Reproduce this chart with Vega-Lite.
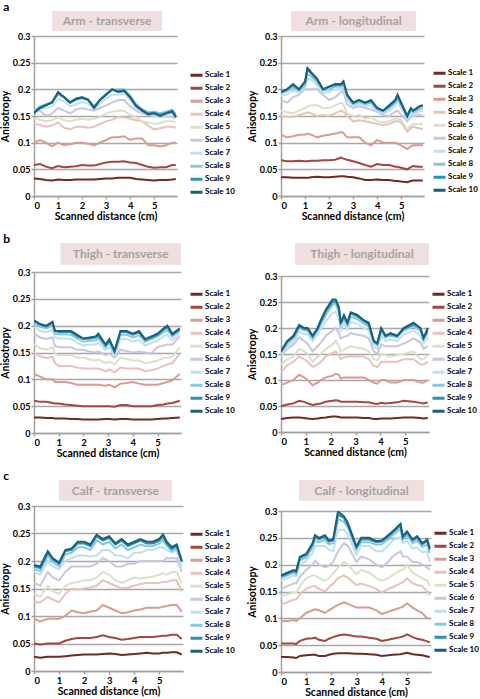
{
"$schema": "https://vega.github.io/schema/vega-lite/v6.json",
"background": "white",
"padding": {"left": 0, "top": 1, "right": 0, "bottom": 0},
"config": {
  "view": {"stroke": null},
  "font": "Lato",
  "range": {"category": ["#6e2a23", "#a4473c", "#d79c93", "#e9c2bd", "#d9e2c8", "#c9c6dd", "#c0e0ee", "#86c7e2", "#2a92b8", "#1b5f78"]},
  "axis": {"labelFont": "Lato", "titleFont": "Lato", "labelFontWeight": "bold", "titleFontWeight": "bold", "labelFontSize": 9.5, "titleFontSize": 10.5, "labelColor": "#000", "titleColor": "#000", "domainColor": "#a0a0a0", "domainWidth": 1.5, "tickColor": "#a0a0a0", "tickWidth": 1.5, "tickSize": 3, "gridColor": "#a8a8a8", "gridWidth": 1.5, "labelPadding": 1, "titlePadding": 2},
  "axisX": {"grid": false},
  "axisY": {"labelFontSize": 9},
  "legend": {"symbolType": "stroke", "symbolStrokeWidth": 3, "symbolSize": 144, "labelFontSize": 8, "labelFontWeight": "bold", "labelFont": "Lato", "rowPadding": 0, "clipHeight": 12.4, "padding": 0, "labelOffset": 1, "title": null},
  "title": {"font": "Lato", "fontWeight": "bold", "fontSize": 12, "anchor": "start", "frame": "bounds", "offset": -3, "dx": 3}
},
"datasets": {
"AT": [
{"x":0,"s1":0.033,"s2":0.058,"s3":0.1,"s4":0.135,"s5":0.145,"s6":0.16,"s7":0.158,"s8":0.16,"s9":0.157,"s10":0.155},
{"x":0.25,"s1":0.032,"s2":0.06,"s3":0.105,"s4":0.133,"s5":0.143,"s6":0.16,"s7":0.163,"s8":0.168,"s9":0.166,"s10":0.165},
{"x":0.5,"s1":0.03,"s2":0.055,"s3":0.1,"s4":0.13,"s5":0.14,"s6":0.15,"s7":0.165,"s8":0.172,"s9":0.171,"s10":0.17},
{"x":0.75,"s1":0.029,"s2":0.052,"s3":0.093,"s4":0.132,"s5":0.142,"s6":0.155,"s7":0.168,"s8":0.176,"s9":0.176,"s10":0.175},
{"x":1,"s1":0.031,"s2":0.056,"s3":0.1,"s4":0.138,"s5":0.148,"s6":0.165,"s7":0.182,"s8":0.19,"s9":0.193,"s10":0.195},
{"x":1.25,"s1":0.03,"s2":0.054,"s3":0.095,"s4":0.128,"s5":0.142,"s6":0.16,"s7":0.178,"s8":0.185,"s9":0.186,"s10":0.185},
{"x":1.5,"s1":0.03,"s2":0.055,"s3":0.097,"s4":0.125,"s5":0.14,"s6":0.155,"s7":0.168,"s8":0.175,"s9":0.176,"s10":0.175},
{"x":1.75,"s1":0.031,"s2":0.056,"s3":0.1,"s4":0.13,"s5":0.143,"s6":0.162,"s7":0.172,"s8":0.18,"s9":0.183,"s10":0.182},
{"x":2,"s1":0.031,"s2":0.058,"s3":0.1,"s4":0.13,"s5":0.145,"s6":0.165,"s7":0.176,"s8":0.183,"s9":0.185,"s10":0.185},
{"x":2.25,"s1":0.031,"s2":0.057,"s3":0.098,"s4":0.128,"s5":0.143,"s6":0.162,"s7":0.173,"s8":0.18,"s9":0.181,"s10":0.18},
{"x":2.5,"s1":0.031,"s2":0.057,"s3":0.095,"s4":0.13,"s5":0.145,"s6":0.16,"s7":0.163,"s8":0.168,"s9":0.167,"s10":0.165},
{"x":2.75,"s1":0.032,"s2":0.06,"s3":0.1,"s4":0.135,"s5":0.148,"s6":0.165,"s7":0.173,"s8":0.18,"s9":0.181,"s10":0.18},
{"x":3,"s1":0.033,"s2":0.063,"s3":0.105,"s4":0.14,"s5":0.155,"s6":0.17,"s7":0.183,"s8":0.19,"s9":0.191,"s10":0.19},
{"x":3.25,"s1":0.033,"s2":0.064,"s3":0.11,"s4":0.143,"s5":0.158,"s6":0.175,"s7":0.19,"s8":0.198,"s9":0.2,"s10":0.2},
{"x":3.5,"s1":0.034,"s2":0.064,"s3":0.11,"s4":0.148,"s5":0.16,"s6":0.18,"s7":0.19,"s8":0.2,"s9":0.197,"s10":0.195},
{"x":3.75,"s1":0.034,"s2":0.065,"s3":0.112,"s4":0.147,"s5":0.16,"s6":0.18,"s7":0.192,"s8":0.2,"s9":0.198,"s10":0.197},
{"x":4,"s1":0.034,"s2":0.063,"s3":0.105,"s4":0.145,"s5":0.152,"s6":0.168,"s7":0.18,"s8":0.188,"s9":0.186,"s10":0.185},
{"x":4.25,"s1":0.032,"s2":0.062,"s3":0.108,"s4":0.142,"s5":0.148,"s6":0.16,"s7":0.166,"s8":0.172,"s9":0.17,"s10":0.168},
{"x":4.5,"s1":0.031,"s2":0.058,"s3":0.108,"s4":0.14,"s5":0.14,"s6":0.155,"s7":0.158,"s8":0.163,"s9":0.161,"s10":0.16},
{"x":4.75,"s1":0.03,"s2":0.055,"s3":0.095,"s4":0.132,"s5":0.138,"s6":0.152,"s7":0.152,"s8":0.157,"s9":0.155,"s10":0.153},
{"x":5,"s1":0.029,"s2":0.053,"s3":0.095,"s4":0.125,"s5":0.135,"s6":0.15,"s7":0.153,"s8":0.158,"s9":0.156,"s10":0.155},
{"x":5.25,"s1":0.03,"s2":0.054,"s3":0.093,"s4":0.127,"s5":0.137,"s6":0.148,"s7":0.15,"s8":0.155,"s9":0.152,"s10":0.15},
{"x":5.5,"s1":0.03,"s2":0.054,"s3":0.095,"s4":0.13,"s5":0.14,"s6":0.15,"s7":0.153,"s8":0.158,"s9":0.156,"s10":0.155},
{"x":5.75,"s1":0.031,"s2":0.058,"s3":0.1,"s4":0.13,"s5":0.14,"s6":0.148,"s7":0.156,"s8":0.162,"s9":0.16,"s10":0.158},
{"x":5.9,"s1":0.032,"s2":0.058,"s3":0.1,"s4":0.128,"s5":0.138,"s6":0.145,"s7":0.15,"s8":0.153,"s9":0.15,"s10":0.148}
],
"AL": [
{"x":0,"s1":0.035,"s2":0.067,"s3":0.115,"s4":0.15,"s5":0.16,"s6":0.18,"s7":0.188,"s8":0.192,"s9":0.196,"s10":0.195},
{"x":0.25,"s1":0.035,"s2":0.065,"s3":0.11,"s4":0.148,"s5":0.157,"s6":0.175,"s7":0.19,"s8":0.196,"s9":0.2,"s10":0.2},
{"x":0.5,"s1":0.034,"s2":0.065,"s3":0.112,"s4":0.148,"s5":0.155,"s6":0.185,"s7":0.198,"s8":0.204,"s9":0.208,"s10":0.21},
{"x":0.75,"s1":0.034,"s2":0.066,"s3":0.115,"s4":0.152,"s5":0.16,"s6":0.19,"s7":0.193,"s8":0.197,"s9":0.2,"s10":0.2},
{"x":1,"s1":0.034,"s2":0.065,"s3":0.115,"s4":0.155,"s5":0.165,"s6":0.2,"s7":0.203,"s8":0.208,"s9":0.213,"s10":0.215},
{"x":1.1,"s1":0.034,"s2":0.065,"s3":0.117,"s4":0.157,"s5":0.168,"s6":0.2,"s7":0.22,"s8":0.228,"s9":0.237,"s10":0.24},
{"x":1.25,"s1":0.035,"s2":0.066,"s3":0.115,"s4":0.155,"s5":0.17,"s6":0.2,"s7":0.218,"s8":0.225,"s9":0.23,"s10":0.232},
{"x":1.5,"s1":0.036,"s2":0.066,"s3":0.11,"s4":0.15,"s5":0.17,"s6":0.2,"s7":0.208,"s8":0.213,"s9":0.218,"s10":0.22},
{"x":1.75,"s1":0.035,"s2":0.067,"s3":0.113,"s4":0.152,"s5":0.165,"s6":0.19,"s7":0.193,"s8":0.198,"s9":0.2,"s10":0.2},
{"x":2,"s1":0.035,"s2":0.067,"s3":0.115,"s4":0.15,"s5":0.165,"s6":0.18,"s7":0.195,"s8":0.2,"s9":0.205,"s10":0.205},
{"x":2.25,"s1":0.036,"s2":0.068,"s3":0.117,"s4":0.155,"s5":0.17,"s6":0.185,"s7":0.2,"s8":0.205,"s9":0.208,"s10":0.21},
{"x":2.5,"s1":0.037,"s2":0.072,"s3":0.12,"s4":0.16,"s5":0.175,"s6":0.195,"s7":0.2,"s8":0.205,"s9":0.208,"s10":0.21},
{"x":2.6,"s1":0.037,"s2":0.07,"s3":0.118,"s4":0.158,"s5":0.172,"s6":0.195,"s7":0.205,"s8":0.21,"s9":0.213,"s10":0.215},
{"x":2.75,"s1":0.036,"s2":0.068,"s3":0.11,"s4":0.15,"s5":0.155,"s6":0.172,"s7":0.182,"s8":0.186,"s9":0.19,"s10":0.19},
{"x":3,"s1":0.035,"s2":0.065,"s3":0.11,"s4":0.14,"s5":0.15,"s6":0.165,"s7":0.168,"s8":0.172,"s9":0.175,"s10":0.175},
{"x":3.25,"s1":0.033,"s2":0.062,"s3":0.11,"s4":0.142,"s5":0.152,"s6":0.168,"s7":0.172,"s8":0.176,"s9":0.18,"s10":0.18},
{"x":3.5,"s1":0.03,"s2":0.058,"s3":0.1,"s4":0.14,"s5":0.145,"s6":0.165,"s7":0.168,"s8":0.172,"s9":0.175,"s10":0.175},
{"x":3.75,"s1":0.03,"s2":0.055,"s3":0.095,"s4":0.138,"s5":0.148,"s6":0.162,"s7":0.17,"s8":0.175,"s9":0.178,"s10":0.18},
{"x":4,"s1":0.031,"s2":0.06,"s3":0.105,"s4":0.135,"s5":0.14,"s6":0.158,"s7":0.158,"s8":0.162,"s9":0.165,"s10":0.165},
{"x":4.25,"s1":0.03,"s2":0.058,"s3":0.1,"s4":0.133,"s5":0.138,"s6":0.152,"s7":0.155,"s8":0.158,"s9":0.16,"s10":0.16},
{"x":4.5,"s1":0.03,"s2":0.058,"s3":0.1,"s4":0.135,"s5":0.14,"s6":0.15,"s7":0.16,"s8":0.165,"s9":0.168,"s10":0.17},
{"x":4.75,"s1":0.028,"s2":0.055,"s3":0.1,"s4":0.14,"s5":0.145,"s6":0.158,"s7":0.17,"s8":0.175,"s9":0.178,"s10":0.18},
{"x":4.85,"s1":0.028,"s2":0.055,"s3":0.098,"s4":0.14,"s5":0.145,"s6":0.16,"s7":0.178,"s8":0.183,"s9":0.187,"s10":0.19},
{"x":5,"s1":0.027,"s2":0.053,"s3":0.095,"s4":0.138,"s5":0.142,"s6":0.152,"s7":0.165,"s8":0.17,"s9":0.173,"s10":0.175},
{"x":5.25,"s1":0.026,"s2":0.05,"s3":0.088,"s4":0.12,"s5":0.125,"s6":0.14,"s7":0.145,"s8":0.148,"s9":0.15,"s10":0.15},
{"x":5.4,"s1":0.028,"s2":0.054,"s3":0.093,"s4":0.127,"s5":0.132,"s6":0.148,"s7":0.155,"s8":0.16,"s9":0.163,"s10":0.165},
{"x":5.5,"s1":0.029,"s2":0.056,"s3":0.095,"s4":0.13,"s5":0.135,"s6":0.15,"s7":0.153,"s8":0.157,"s9":0.16,"s10":0.16},
{"x":5.75,"s1":0.029,"s2":0.055,"s3":0.095,"s4":0.127,"s5":0.135,"s6":0.152,"s7":0.158,"s8":0.163,"s9":0.167,"s10":0.168},
{"x":5.9,"s1":0.029,"s2":0.055,"s3":0.095,"s4":0.125,"s5":0.135,"s6":0.15,"s7":0.16,"s8":0.165,"s9":0.17,"s10":0.17}
],
"BT": [
{"x":0,"s1":0.029,"s2":0.06,"s3":0.11,"s4":0.15,"s5":0.165,"s6":0.185,"s7":0.198,"s8":0.205,"s9":0.208,"s10":0.21},
{"x":0.25,"s1":0.029,"s2":0.058,"s3":0.105,"s4":0.143,"s5":0.158,"s6":0.178,"s7":0.19,"s8":0.198,"s9":0.202,"s10":0.203},
{"x":0.5,"s1":0.028,"s2":0.058,"s3":0.1,"s4":0.14,"s5":0.155,"s6":0.175,"s7":0.188,"s8":0.195,"s9":0.198,"s10":0.2},
{"x":0.75,"s1":0.028,"s2":0.056,"s3":0.1,"s4":0.142,"s5":0.16,"s6":0.178,"s7":0.192,"s8":0.2,"s9":0.205,"s10":0.207},
{"x":0.85,"s1":0.027,"s2":0.055,"s3":0.095,"s4":0.13,"s5":0.148,"s6":0.162,"s7":0.178,"s8":0.185,"s9":0.19,"s10":0.19},
{"x":1,"s1":0.027,"s2":0.055,"s3":0.095,"s4":0.125,"s5":0.145,"s6":0.16,"s7":0.176,"s8":0.184,"s9":0.188,"s10":0.19},
{"x":1.25,"s1":0.027,"s2":0.053,"s3":0.095,"s4":0.125,"s5":0.145,"s6":0.16,"s7":0.176,"s8":0.184,"s9":0.188,"s10":0.19},
{"x":1.5,"s1":0.026,"s2":0.052,"s3":0.093,"s4":0.125,"s5":0.145,"s6":0.16,"s7":0.175,"s8":0.183,"s9":0.188,"s10":0.19},
{"x":1.75,"s1":0.026,"s2":0.051,"s3":0.09,"s4":0.122,"s5":0.14,"s6":0.155,"s7":0.168,"s8":0.176,"s9":0.18,"s10":0.183},
{"x":2,"s1":0.025,"s2":0.05,"s3":0.09,"s4":0.12,"s5":0.14,"s6":0.155,"s7":0.163,"s8":0.17,"s9":0.175,"s10":0.176},
{"x":2.25,"s1":0.025,"s2":0.05,"s3":0.09,"s4":0.12,"s5":0.137,"s6":0.152,"s7":0.165,"s8":0.172,"s9":0.176,"s10":0.178},
{"x":2.5,"s1":0.025,"s2":0.05,"s3":0.09,"s4":0.12,"s5":0.135,"s6":0.15,"s7":0.165,"s8":0.173,"s9":0.178,"s10":0.18},
{"x":2.6,"s1":0.025,"s2":0.05,"s3":0.09,"s4":0.12,"s5":0.137,"s6":0.152,"s7":0.168,"s8":0.177,"s9":0.182,"s10":0.185},
{"x":2.9,"s1":0.026,"s2":0.05,"s3":0.088,"s4":0.115,"s5":0.13,"s6":0.145,"s7":0.155,"s8":0.16,"s9":0.163,"s10":0.165},
{"x":3.05,"s1":0.026,"s2":0.05,"s3":0.09,"s4":0.118,"s5":0.133,"s6":0.148,"s7":0.16,"s8":0.168,"s9":0.172,"s10":0.175},
{"x":3.26,"s1":0.025,"s2":0.049,"s3":0.085,"s4":0.113,"s5":0.128,"s6":0.14,"s7":0.145,"s8":0.15,"s9":0.152,"s10":0.153},
{"x":3.5,"s1":0.026,"s2":0.052,"s3":0.092,"s4":0.122,"s5":0.14,"s6":0.155,"s7":0.175,"s8":0.183,"s9":0.188,"s10":0.19},
{"x":3.75,"s1":0.026,"s2":0.052,"s3":0.093,"s4":0.12,"s5":0.138,"s6":0.153,"s7":0.175,"s8":0.183,"s9":0.188,"s10":0.19},
{"x":4,"s1":0.025,"s2":0.05,"s3":0.095,"s4":0.12,"s5":0.135,"s6":0.15,"s7":0.17,"s8":0.178,"s9":0.183,"s10":0.185},
{"x":4.25,"s1":0.025,"s2":0.05,"s3":0.092,"s4":0.12,"s5":0.135,"s6":0.152,"s7":0.173,"s8":0.182,"s9":0.187,"s10":0.19},
{"x":4.5,"s1":0.025,"s2":0.05,"s3":0.09,"s4":0.115,"s5":0.13,"s6":0.15,"s7":0.163,"s8":0.17,"s9":0.173,"s10":0.175},
{"x":4.75,"s1":0.025,"s2":0.05,"s3":0.09,"s4":0.117,"s5":0.132,"s6":0.148,"s7":0.168,"s8":0.175,"s9":0.178,"s10":0.18},
{"x":5,"s1":0.026,"s2":0.052,"s3":0.09,"s4":0.12,"s5":0.135,"s6":0.16,"s7":0.172,"s8":0.18,"s9":0.183,"s10":0.185},
{"x":5.25,"s1":0.027,"s2":0.053,"s3":0.093,"s4":0.125,"s5":0.14,"s6":0.163,"s7":0.18,"s8":0.188,"s9":0.193,"s10":0.195},
{"x":5.4,"s1":0.027,"s2":0.055,"s3":0.095,"s4":0.128,"s5":0.14,"s6":0.165,"s7":0.183,"s8":0.192,"s9":0.197,"s10":0.2},
{"x":5.6,"s1":0.028,"s2":0.056,"s3":0.098,"s4":0.13,"s5":0.142,"s6":0.165,"s7":0.173,"s8":0.18,"s9":0.183,"s10":0.185},
{"x":5.9,"s1":0.029,"s2":0.06,"s3":0.11,"s4":0.148,"s5":0.16,"s6":0.18,"s7":0.185,"s8":0.19,"s9":0.193,"s10":0.195}
],
"BL": [
{"x":0,"s1":0.025,"s2":0.05,"s3":0.09,"s4":0.115,"s5":0.13,"s6":0.145,"s7":0.148,"s8":0.152,"s9":0.156,"s10":0.155},
{"x":0.25,"s1":0.027,"s2":0.053,"s3":0.095,"s4":0.128,"s5":0.14,"s6":0.16,"s7":0.165,"s8":0.17,"s9":0.173,"s10":0.175},
{"x":0.5,"s1":0.028,"s2":0.055,"s3":0.1,"s4":0.135,"s5":0.145,"s6":0.168,"s7":0.173,"s8":0.18,"s9":0.183,"s10":0.185},
{"x":0.73,"s1":0.028,"s2":0.06,"s3":0.11,"s4":0.145,"s5":0.16,"s6":0.182,"s7":0.193,"s8":0.2,"s9":0.203,"s10":0.206},
{"x":0.93,"s1":0.027,"s2":0.058,"s3":0.105,"s4":0.14,"s5":0.155,"s6":0.175,"s7":0.188,"s8":0.195,"s9":0.198,"s10":0.2},
{"x":1.07,"s1":0.026,"s2":0.055,"s3":0.1,"s4":0.135,"s5":0.15,"s6":0.17,"s7":0.188,"s8":0.195,"s9":0.198,"s10":0.2},
{"x":1.27,"s1":0.025,"s2":0.052,"s3":0.09,"s4":0.125,"s5":0.135,"s6":0.155,"s7":0.175,"s8":0.18,"s9":0.184,"s10":0.185},
{"x":1.47,"s1":0.026,"s2":0.054,"s3":0.095,"s4":0.13,"s5":0.145,"s6":0.165,"s7":0.188,"s8":0.195,"s9":0.198,"s10":0.2},
{"x":1.6,"s1":0.027,"s2":0.055,"s3":0.1,"s4":0.135,"s5":0.15,"s6":0.172,"s7":0.198,"s8":0.207,"s9":0.212,"s10":0.215},
{"x":1.8,"s1":0.028,"s2":0.058,"s3":0.105,"s4":0.145,"s5":0.16,"s6":0.185,"s7":0.213,"s8":0.225,"s9":0.232,"s10":0.235},
{"x":2.07,"s1":0.03,"s2":0.06,"s3":0.108,"s4":0.152,"s5":0.168,"s6":0.195,"s7":0.228,"s8":0.245,"s9":0.25,"s10":0.255},
{"x":2.2,"s1":0.03,"s2":0.061,"s3":0.112,"s4":0.155,"s5":0.175,"s6":0.2,"s7":0.232,"s8":0.247,"s9":0.252,"s10":0.255},
{"x":2.33,"s1":0.029,"s2":0.06,"s3":0.11,"s4":0.148,"s5":0.165,"s6":0.19,"s7":0.218,"s8":0.23,"s9":0.237,"s10":0.24},
{"x":2.4,"s1":0.028,"s2":0.058,"s3":0.103,"s4":0.14,"s5":0.155,"s6":0.18,"s7":0.195,"s8":0.205,"s9":0.21,"s10":0.21},
{"x":2.53,"s1":0.028,"s2":0.058,"s3":0.105,"s4":0.143,"s5":0.158,"s6":0.183,"s7":0.21,"s8":0.218,"s9":0.222,"s10":0.225},
{"x":2.67,"s1":0.028,"s2":0.058,"s3":0.105,"s4":0.145,"s5":0.162,"s6":0.185,"s7":0.197,"s8":0.205,"s9":0.21,"s10":0.21},
{"x":2.8,"s1":0.028,"s2":0.058,"s3":0.105,"s4":0.145,"s5":0.165,"s6":0.19,"s7":0.212,"s8":0.222,"s9":0.228,"s10":0.23},
{"x":3.07,"s1":0.028,"s2":0.058,"s3":0.105,"s4":0.145,"s5":0.162,"s6":0.187,"s7":0.208,"s8":0.217,"s9":0.222,"s10":0.225},
{"x":3.33,"s1":0.027,"s2":0.057,"s3":0.105,"s4":0.145,"s5":0.16,"s6":0.185,"s7":0.2,"s8":0.208,"s9":0.213,"s10":0.215},
{"x":3.53,"s1":0.027,"s2":0.057,"s3":0.1,"s4":0.14,"s5":0.155,"s6":0.18,"s7":0.195,"s8":0.203,"s9":0.207,"s10":0.21},
{"x":3.73,"s1":0.025,"s2":0.055,"s3":0.095,"s4":0.127,"s5":0.14,"s6":0.155,"s7":0.165,"s8":0.172,"s9":0.175,"s10":0.175},
{"x":3.87,"s1":0.025,"s2":0.054,"s3":0.093,"s4":0.125,"s5":0.138,"s6":0.15,"s7":0.16,"s8":0.167,"s9":0.17,"s10":0.17},
{"x":4.03,"s1":0.026,"s2":0.056,"s3":0.1,"s4":0.135,"s5":0.15,"s6":0.168,"s7":0.185,"s8":0.193,"s9":0.198,"s10":0.2},
{"x":4.2,"s1":0.026,"s2":0.055,"s3":0.1,"s4":0.135,"s5":0.148,"s6":0.165,"s7":0.175,"s8":0.182,"s9":0.185,"s10":0.185},
{"x":4.4,"s1":0.026,"s2":0.056,"s3":0.095,"s4":0.135,"s5":0.145,"s6":0.165,"s7":0.178,"s8":0.185,"s9":0.188,"s10":0.19},
{"x":4.67,"s1":0.027,"s2":0.057,"s3":0.095,"s4":0.135,"s5":0.148,"s6":0.165,"s7":0.175,"s8":0.182,"s9":0.185,"s10":0.185},
{"x":4.93,"s1":0.028,"s2":0.06,"s3":0.1,"s4":0.14,"s5":0.15,"s6":0.17,"s7":0.187,"s8":0.195,"s9":0.198,"s10":0.2},
{"x":5.33,"s1":0.028,"s2":0.058,"s3":0.1,"s4":0.14,"s5":0.155,"s6":0.18,"s7":0.195,"s8":0.203,"s9":0.207,"s10":0.21},
{"x":5.6,"s1":0.027,"s2":0.056,"s3":0.095,"s4":0.13,"s5":0.14,"s6":0.172,"s7":0.185,"s8":0.195,"s9":0.2,"s10":0.2},
{"x":5.73,"s1":0.026,"s2":0.055,"s3":0.095,"s4":0.13,"s5":0.14,"s6":0.16,"s7":0.17,"s8":0.178,"s9":0.182,"s10":0.18},
{"x":5.9,"s1":0.027,"s2":0.057,"s3":0.1,"s4":0.135,"s5":0.148,"s6":0.165,"s7":0.182,"s8":0.19,"s9":0.195,"s10":0.2}
],
"CT": [
{"x":0,"s1":0.026,"s2":0.05,"s3":0.095,"s4":0.125,"s5":0.14,"s6":0.16,"s7":0.18,"s8":0.185,"s9":0.19,"s10":0.193},
{"x":0.25,"s1":0.024,"s2":0.048,"s3":0.09,"s4":0.125,"s5":0.135,"s6":0.155,"s7":0.175,"s8":0.182,"s9":0.187,"s10":0.19},
{"x":0.55,"s1":0.026,"s2":0.05,"s3":0.095,"s4":0.135,"s5":0.155,"s6":0.18,"s7":0.2,"s8":0.21,"s9":0.215,"s10":0.218},
{"x":0.75,"s1":0.026,"s2":0.05,"s3":0.095,"s4":0.13,"s5":0.145,"s6":0.17,"s7":0.19,"s8":0.198,"s9":0.203,"s10":0.205},
{"x":1,"s1":0.026,"s2":0.05,"s3":0.095,"s4":0.125,"s5":0.14,"s6":0.165,"s7":0.185,"s8":0.19,"s9":0.195,"s10":0.197},
{"x":1.25,"s1":0.027,"s2":0.055,"s3":0.1,"s4":0.14,"s5":0.155,"s6":0.18,"s7":0.2,"s8":0.212,"s9":0.218,"s10":0.22},
{"x":1.5,"s1":0.028,"s2":0.058,"s3":0.11,"s4":0.15,"s5":0.16,"s6":0.19,"s7":0.205,"s8":0.215,"s9":0.22,"s10":0.223},
{"x":1.75,"s1":0.029,"s2":0.06,"s3":0.107,"s4":0.148,"s5":0.162,"s6":0.19,"s7":0.21,"s8":0.225,"s9":0.232,"s10":0.235},
{"x":2,"s1":0.03,"s2":0.06,"s3":0.105,"s4":0.15,"s5":0.165,"s6":0.19,"s7":0.21,"s8":0.225,"s9":0.232,"s10":0.235},
{"x":2.25,"s1":0.03,"s2":0.06,"s3":0.108,"s4":0.152,"s5":0.165,"s6":0.19,"s7":0.208,"s8":0.22,"s9":0.227,"s10":0.23},
{"x":2.5,"s1":0.03,"s2":0.062,"s3":0.11,"s4":0.155,"s5":0.17,"s6":0.195,"s7":0.21,"s8":0.238,"s9":0.245,"s10":0.248},
{"x":2.75,"s1":0.031,"s2":0.065,"s3":0.12,"s4":0.165,"s5":0.18,"s6":0.205,"s7":0.22,"s8":0.23,"s9":0.237,"s10":0.24},
{"x":3,"s1":0.032,"s2":0.062,"s3":0.115,"s4":0.16,"s5":0.175,"s6":0.2,"s7":0.22,"s8":0.235,"s9":0.242,"s10":0.245},
{"x":3.25,"s1":0.031,"s2":0.06,"s3":0.11,"s4":0.155,"s5":0.165,"s6":0.19,"s7":0.21,"s8":0.223,"s9":0.23,"s10":0.232},
{"x":3.5,"s1":0.029,"s2":0.057,"s3":0.105,"s4":0.15,"s5":0.16,"s6":0.19,"s7":0.21,"s8":0.23,"s9":0.237,"s10":0.24},
{"x":3.75,"s1":0.03,"s2":0.058,"s3":0.107,"s4":0.152,"s5":0.165,"s6":0.195,"s7":0.205,"s8":0.22,"s9":0.227,"s10":0.23},
{"x":4,"s1":0.031,"s2":0.06,"s3":0.11,"s4":0.155,"s5":0.17,"s6":0.195,"s7":0.215,"s8":0.225,"s9":0.232,"s10":0.235},
{"x":4.25,"s1":0.032,"s2":0.062,"s3":0.112,"s4":0.158,"s5":0.168,"s6":0.2,"s7":0.215,"s8":0.23,"s9":0.237,"s10":0.24},
{"x":4.5,"s1":0.033,"s2":0.062,"s3":0.115,"s4":0.16,"s5":0.17,"s6":0.2,"s7":0.22,"s8":0.227,"s9":0.232,"s10":0.235},
{"x":4.75,"s1":0.032,"s2":0.062,"s3":0.115,"s4":0.16,"s5":0.172,"s6":0.2,"s7":0.22,"s8":0.227,"s9":0.232,"s10":0.235},
{"x":5,"s1":0.032,"s2":0.063,"s3":0.115,"s4":0.16,"s5":0.175,"s6":0.2,"s7":0.225,"s8":0.232,"s9":0.237,"s10":0.24},
{"x":5.15,"s1":0.033,"s2":0.064,"s3":0.117,"s4":0.162,"s5":0.178,"s6":0.2,"s7":0.225,"s8":0.238,"s9":0.245,"s10":0.248},
{"x":5.3,"s1":0.033,"s2":0.064,"s3":0.118,"s4":0.162,"s5":0.175,"s6":0.205,"s7":0.22,"s8":0.228,"s9":0.232,"s10":0.235},
{"x":5.5,"s1":0.034,"s2":0.066,"s3":0.12,"s4":0.165,"s5":0.18,"s6":0.205,"s7":0.215,"s8":0.218,"s9":0.222,"s10":0.225},
{"x":5.7,"s1":0.034,"s2":0.066,"s3":0.12,"s4":0.165,"s5":0.18,"s6":0.205,"s7":0.22,"s8":0.222,"s9":0.227,"s10":0.23},
{"x":5.9,"s1":0.03,"s2":0.058,"s3":0.108,"s4":0.145,"s5":0.16,"s6":0.18,"s7":0.19,"s8":0.198,"s9":0.2,"s10":0.2}
],
"CL": [
{"x":0,"s1":0.028,"s2":0.053,"s3":0.095,"s4":0.125,"s5":0.14,"s6":0.155,"s7":0.17,"s8":0.175,"s9":0.178,"s10":0.18},
{"x":0.25,"s1":0.028,"s2":0.053,"s3":0.095,"s4":0.13,"s5":0.145,"s6":0.16,"s7":0.175,"s8":0.18,"s9":0.183,"s10":0.185},
{"x":0.5,"s1":0.027,"s2":0.053,"s3":0.097,"s4":0.135,"s5":0.148,"s6":0.165,"s7":0.18,"s8":0.185,"s9":0.188,"s10":0.19},
{"x":0.6,"s1":0.026,"s2":0.052,"s3":0.095,"s4":0.135,"s5":0.148,"s6":0.165,"s7":0.178,"s8":0.182,"s9":0.186,"s10":0.188},
{"x":0.75,"s1":0.03,"s2":0.058,"s3":0.1,"s4":0.145,"s5":0.16,"s6":0.178,"s7":0.2,"s8":0.208,"s9":0.212,"s10":0.215},
{"x":1,"s1":0.031,"s2":0.062,"s3":0.11,"s4":0.155,"s5":0.175,"s6":0.19,"s7":0.207,"s8":0.213,"s9":0.218,"s10":0.22},
{"x":1.25,"s1":0.032,"s2":0.063,"s3":0.115,"s4":0.16,"s5":0.18,"s6":0.2,"s7":0.222,"s8":0.232,"s9":0.237,"s10":0.24},
{"x":1.35,"s1":0.032,"s2":0.064,"s3":0.117,"s4":0.16,"s5":0.18,"s6":0.207,"s7":0.235,"s8":0.245,"s9":0.252,"s10":0.255},
{"x":1.5,"s1":0.03,"s2":0.06,"s3":0.115,"s4":0.155,"s5":0.175,"s6":0.2,"s7":0.235,"s8":0.242,"s9":0.247,"s10":0.25},
{"x":1.75,"s1":0.03,"s2":0.058,"s3":0.11,"s4":0.15,"s5":0.17,"s6":0.195,"s7":0.235,"s8":0.246,"s9":0.252,"s10":0.255},
{"x":1.9,"s1":0.032,"s2":0.062,"s3":0.115,"s4":0.158,"s5":0.175,"s6":0.198,"s7":0.228,"s8":0.238,"s9":0.243,"s10":0.245},
{"x":2.07,"s1":0.034,"s2":0.065,"s3":0.12,"s4":0.165,"s5":0.183,"s6":0.205,"s7":0.225,"s8":0.24,"s9":0.245,"s10":0.247},
{"x":2.26,"s1":0.035,"s2":0.068,"s3":0.125,"s4":0.175,"s5":0.195,"s6":0.225,"s7":0.265,"s8":0.285,"s9":0.293,"s10":0.299},
{"x":2.5,"s1":0.035,"s2":0.07,"s3":0.13,"s4":0.18,"s5":0.205,"s6":0.24,"s7":0.265,"s8":0.28,"s9":0.287,"s10":0.29},
{"x":2.66,"s1":0.035,"s2":0.069,"s3":0.127,"s4":0.175,"s5":0.2,"s6":0.235,"s7":0.255,"s8":0.268,"s9":0.273,"s10":0.277},
{"x":2.99,"s1":0.034,"s2":0.066,"s3":0.12,"s4":0.162,"s5":0.182,"s6":0.205,"s7":0.218,"s8":0.228,"s9":0.232,"s10":0.234},
{"x":3.18,"s1":0.034,"s2":0.066,"s3":0.12,"s4":0.165,"s5":0.19,"s6":0.215,"s7":0.235,"s8":0.242,"s9":0.247,"s10":0.25},
{"x":3.5,"s1":0.033,"s2":0.064,"s3":0.12,"s4":0.16,"s5":0.185,"s6":0.21,"s7":0.235,"s8":0.242,"s9":0.247,"s10":0.25},
{"x":3.78,"s1":0.032,"s2":0.062,"s3":0.115,"s4":0.155,"s5":0.175,"s6":0.2,"s7":0.225,"s8":0.237,"s9":0.242,"s10":0.244},
{"x":4,"s1":0.03,"s2":0.058,"s3":0.108,"s4":0.148,"s5":0.17,"s6":0.195,"s7":0.225,"s8":0.238,"s9":0.243,"s10":0.245},
{"x":4.25,"s1":0.031,"s2":0.06,"s3":0.112,"s4":0.155,"s5":0.175,"s6":0.205,"s7":0.235,"s8":0.247,"s9":0.252,"s10":0.255},
{"x":4.43,"s1":0.032,"s2":0.062,"s3":0.115,"s4":0.158,"s5":0.18,"s6":0.215,"s7":0.245,"s8":0.255,"s9":0.26,"s10":0.262},
{"x":4.74,"s1":0.033,"s2":0.065,"s3":0.12,"s4":0.165,"s5":0.19,"s6":0.225,"s7":0.252,"s8":0.267,"s9":0.273,"s10":0.276},
{"x":4.83,"s1":0.034,"s2":0.066,"s3":0.122,"s4":0.167,"s5":0.19,"s6":0.215,"s7":0.24,"s8":0.247,"s9":0.25,"s10":0.253},
{"x":5,"s1":0.036,"s2":0.07,"s3":0.128,"s4":0.175,"s5":0.2,"s6":0.215,"s7":0.245,"s8":0.255,"s9":0.26,"s10":0.262},
{"x":5.22,"s1":0.033,"s2":0.065,"s3":0.12,"s4":0.165,"s5":0.185,"s6":0.205,"s7":0.23,"s8":0.24,"s9":0.245,"s10":0.247},
{"x":5.4,"s1":0.032,"s2":0.062,"s3":0.115,"s4":0.162,"s5":0.18,"s6":0.205,"s7":0.232,"s8":0.245,"s9":0.25,"s10":0.253},
{"x":5.6,"s1":0.031,"s2":0.06,"s3":0.11,"s4":0.16,"s5":0.175,"s6":0.2,"s7":0.223,"s8":0.233,"s9":0.238,"s10":0.24},
{"x":5.8,"s1":0.029,"s2":0.057,"s3":0.1,"s4":0.15,"s5":0.17,"s6":0.195,"s7":0.225,"s8":0.238,"s9":0.244,"s10":0.247},
{"x":5.9,"s1":0.028,"s2":0.055,"s3":0.1,"s4":0.143,"s5":0.16,"s6":0.19,"s7":0.205,"s8":0.222,"s9":0.228,"s10":0.231}
]
},
"resolve": {"scale": {"color": "independent"}, "legend": {"color": "independent"}},
"spacing": 11,
"vconcat": [
{
  "title": {"text": "a"},
  "spacing": 12,
  "resolve": {"scale": {"color": "independent"}, "legend": {"color": "independent"}},
  "hconcat": [
    {"bounds": "flush", "spacing": 5, "vconcat": [
      {"width": 143, "height": 20, "data": {"values": [{"t": "Arm - transverse"}]},
       "layer": [
        {"mark": {"type": "rect", "color": "#efdfde"}, "encoding": {"x": {"field": "t", "type": "nominal", "axis": null, "scale": {"paddingInner": 0, "paddingOuter": 0.15, "align": 0.55}}}},
        {"mark": {"type": "text", "color": "#a3a3a3", "fontWeight": "bold", "fontSize": 12, "font": "Lato"}, "encoding": {"x": {"field": "t", "type": "nominal", "axis": null}, "text": {"field": "t"}}}
       ]},
      {"width": 143, "height": 160, "data": {"name": "AT"},
       "transform": [{"fold": ["s1","s2","s3","s4","s5","s6","s7","s8","s9","s10"], "as": ["scale", "value"]}],
       "mark": {"type": "line", "strokeWidth": 2, "clip": true},
       "encoding": {
         "x": {"field": "x", "type": "quantitative", "scale": {"domain": [0, 5.95], "nice": false}, "axis": {"values": [0,1,2,3,4,5], "title": "Scanned distance (cm)"}},
         "y": {"field": "value", "type": "quantitative", "scale": {"domain": [0, 0.3]}, "axis": {"values": [0,0.05,0.1,0.15,0.2,0.25,0.3], "format": ".2~f", "title": "Anisotropy", "grid": true}},
         "color": {"field": "scale", "type": "nominal", "scale": {"domain": ["s1","s2","s3","s4","s5","s6","s7","s8","s9","s10"]}, "legend": {"orient": "none", "legendX": 155, "legendY": 58, "labelExpr": "'Scale ' + slice(datum.label, 1)"}}
       }}
    ]},
    {"bounds": "flush", "spacing": 5, "vconcat": [
      {"width": 143, "height": 20, "data": {"values": [{"t": "Arm - longitudinal"}]},
       "layer": [
        {"mark": {"type": "rect", "color": "#efdfde"}, "encoding": {"x": {"field": "t", "type": "nominal", "axis": null, "scale": {"paddingInner": 0, "paddingOuter": 0.072, "align": 0.56}}}},
        {"mark": {"type": "text", "color": "#a3a3a3", "fontWeight": "bold", "fontSize": 12, "font": "Lato"}, "encoding": {"x": {"field": "t", "type": "nominal", "axis": null}, "text": {"field": "t"}}}
       ]},
      {"width": 143, "height": 160, "data": {"name": "AL"},
       "transform": [{"fold": ["s1","s2","s3","s4","s5","s6","s7","s8","s9","s10"], "as": ["scale", "value"]}],
       "mark": {"type": "line", "strokeWidth": 2, "clip": true},
       "encoding": {
         "x": {"field": "x", "type": "quantitative", "scale": {"domain": [0, 5.95], "nice": false}, "axis": {"values": [0,1,2,3,4,5], "title": "Scanned distance (cm)"}},
         "y": {"field": "value", "type": "quantitative", "scale": {"domain": [0, 0.3]}, "axis": {"values": [0,0.05,0.1,0.15,0.2,0.25,0.3], "format": ".2~f", "title": "Anisotropy", "grid": true}},
         "color": {"field": "scale", "type": "nominal", "scale": {"domain": ["s1","s2","s3","s4","s5","s6","s7","s8","s9","s10"]}, "legend": {"orient": "none", "legendX": 151, "legendY": 56, "labelExpr": "'Scale ' + slice(datum.label, 1)"}}
       }}
    ]}
  ]
},
{
  "title": {"text": "b"},
  "spacing": 12,
  "resolve": {"scale": {"color": "independent"}, "legend": {"color": "independent"}},
  "hconcat": [
    {"bounds": "flush", "spacing": 7, "vconcat": [
      {"width": 147, "height": 22, "data": {"values": [{"t": "Thigh - transverse"}]},
       "layer": [
        {"mark": {"type": "rect", "color": "#efdfde"}, "encoding": {"x": {"field": "t", "type": "nominal", "axis": null, "scale": {"paddingInner": 0, "paddingOuter": 0.11, "align": 1}}}},
        {"mark": {"type": "text", "color": "#a3a3a3", "fontWeight": "bold", "fontSize": 12, "font": "Lato"}, "encoding": {"x": {"field": "t", "type": "nominal", "axis": null}, "text": {"field": "t"}}}
       ]},
      {"width": 147, "height": 161, "data": {"name": "BT"},
       "transform": [{"fold": ["s1","s2","s3","s4","s5","s6","s7","s8","s9","s10"], "as": ["scale", "value"]}],
       "mark": {"type": "line", "strokeWidth": 2, "clip": true},
       "encoding": {
         "x": {"field": "x", "type": "quantitative", "scale": {"domain": [0, 5.95], "nice": false}, "axis": {"values": [0,1,2,3,4,5], "title": "Scanned distance (cm)"}},
         "y": {"field": "value", "type": "quantitative", "scale": {"domain": [0, 0.3]}, "axis": {"values": [0,0.05,0.1,0.15,0.2,0.25,0.3], "format": ".2~f", "title": "Anisotropy", "grid": true}},
         "color": {"field": "scale", "type": "nominal", "scale": {"domain": ["s1","s2","s3","s4","s5","s6","s7","s8","s9","s10"]}, "legend": {"orient": "none", "legendX": 155, "legendY": 45, "labelExpr": "'Scale ' + slice(datum.label, 1)"}}
       }}
    ]},
    {"bounds": "flush", "spacing": 11, "vconcat": [
      {"width": 148, "height": 22, "data": {"values": [{"t": "Thigh - longitudinal"}]},
       "layer": [
        {"mark": {"type": "rect", "color": "#efdfde"}, "encoding": {"x": {"field": "t", "type": "nominal", "axis": null, "scale": {"paddingInner": 0, "paddingOuter": 0.052, "align": 1}}}},
        {"mark": {"type": "text", "color": "#a3a3a3", "fontWeight": "bold", "fontSize": 12, "font": "Lato"}, "encoding": {"x": {"field": "t", "type": "nominal", "axis": null}, "text": {"field": "t"}}}
       ]},
      {"width": 148, "height": 156, "data": {"name": "BL"},
       "transform": [{"fold": ["s1","s2","s3","s4","s5","s6","s7","s8","s9","s10"], "as": ["scale", "value"]}],
       "mark": {"type": "line", "strokeWidth": 2, "clip": true},
       "encoding": {
         "x": {"field": "x", "type": "quantitative", "scale": {"domain": [0, 5.95], "nice": false}, "axis": {"values": [0,1,2,3,4,5], "title": "Scanned distance (cm)"}},
         "y": {"field": "value", "type": "quantitative", "scale": {"domain": [0, 0.3]}, "axis": {"values": [0,0.05,0.1,0.15,0.2,0.25,0.3], "format": ".2~f", "title": "Anisotropy", "grid": true}},
         "color": {"field": "scale", "type": "nominal", "scale": {"domain": ["s1","s2","s3","s4","s5","s6","s7","s8","s9","s10"]}, "legend": {"orient": "none", "legendX": 150, "legendY": 45, "labelExpr": "'Scale ' + slice(datum.label, 1)"}}
       }}
    ]}
  ]
},
{
  "title": {"text": "c"},
  "spacing": 12,
  "resolve": {"scale": {"color": "independent"}, "legend": {"color": "independent"}},
  "hconcat": [
    {"bounds": "flush", "spacing": 5, "vconcat": [
      {"width": 149, "height": 21, "data": {"values": [{"t": "Calf - transverse"}]},
       "layer": [
        {"mark": {"type": "rect", "color": "#efdfde"}, "encoding": {"x": {"field": "t", "type": "nominal", "axis": null, "scale": {"paddingInner": 0, "paddingOuter": 0.159, "align": 0.69}}}},
        {"mark": {"type": "text", "color": "#a3a3a3", "fontWeight": "bold", "fontSize": 12, "font": "Lato"}, "encoding": {"x": {"field": "t", "type": "nominal", "axis": null}, "text": {"field": "t"}}}
       ]},
      {"width": 149, "height": 165, "data": {"name": "CT"},
       "transform": [{"fold": ["s1","s2","s3","s4","s5","s6","s7","s8","s9","s10"], "as": ["scale", "value"]}],
       "mark": {"type": "line", "strokeWidth": 2, "clip": true},
       "encoding": {
         "x": {"field": "x", "type": "quantitative", "scale": {"domain": [0, 5.95], "nice": false}, "axis": {"values": [0,1,2,3,4,5], "title": "Scanned distance (cm)"}},
         "y": {"field": "value", "type": "quantitative", "scale": {"domain": [0, 0.3]}, "axis": {"values": [0,0.05,0.1,0.15,0.2,0.25,0.3], "format": ".2~f", "title": "Anisotropy", "grid": true}},
         "color": {"field": "scale", "type": "nominal", "scale": {"domain": ["s1","s2","s3","s4","s5","s6","s7","s8","s9","s10"]}, "legend": {"orient": "none", "legendX": 155, "legendY": 48, "labelExpr": "'Scale ' + slice(datum.label, 1)"}}
       }}
    ]},
    {"bounds": "flush", "spacing": 10, "vconcat": [
      {"width": 150, "height": 21, "data": {"values": [{"t": "Calf - longitudinal"}]},
       "layer": [
        {"mark": {"type": "rect", "color": "#efdfde"}, "encoding": {"x": {"field": "t", "type": "nominal", "axis": null, "scale": {"paddingInner": 0, "paddingOuter": 0.1, "align": 0.72}}}},
        {"mark": {"type": "text", "color": "#a3a3a3", "fontWeight": "bold", "fontSize": 12, "font": "Lato"}, "encoding": {"x": {"field": "t", "type": "nominal", "axis": null}, "text": {"field": "t"}}}
       ]},
      {"width": 150, "height": 161, "data": {"name": "CL"},
       "transform": [{"fold": ["s1","s2","s3","s4","s5","s6","s7","s8","s9","s10"], "as": ["scale", "value"]}],
       "mark": {"type": "line", "strokeWidth": 2, "clip": true},
       "encoding": {
         "x": {"field": "x", "type": "quantitative", "scale": {"domain": [0, 5.95], "nice": false}, "axis": {"values": [0,1,2,3,4,5], "title": "Scanned distance (cm)"}},
         "y": {"field": "value", "type": "quantitative", "scale": {"domain": [0, 0.3]}, "axis": {"values": [0,0.05,0.1,0.15,0.2,0.25,0.3], "format": ".2~f", "title": "Anisotropy", "grid": true}},
         "color": {"field": "scale", "type": "nominal", "scale": {"domain": ["s1","s2","s3","s4","s5","s6","s7","s8","s9","s10"]}, "legend": {"orient": "none", "legendX": 152, "legendY": 47, "labelExpr": "'Scale ' + slice(datum.label, 1)"}}
       }}
    ]}
  ]
}
]
}
